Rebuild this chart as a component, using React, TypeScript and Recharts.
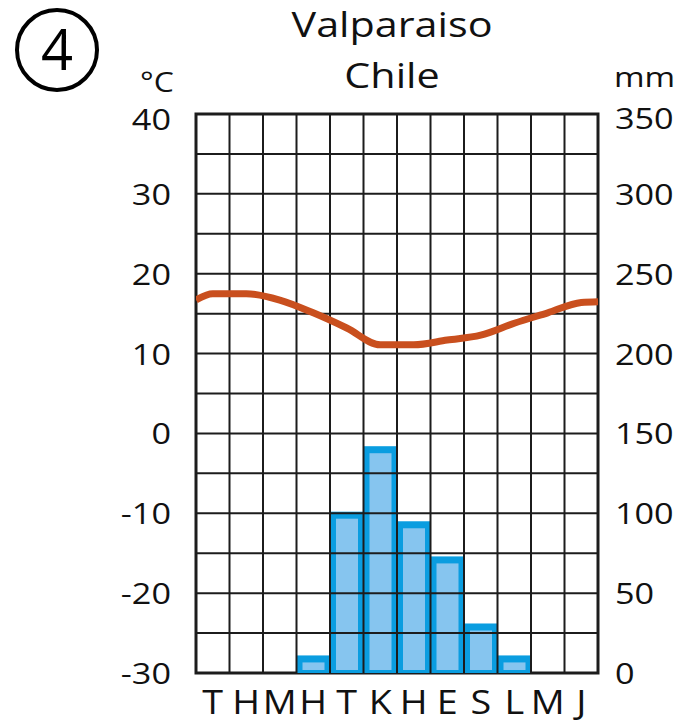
import {
  ComposedChart,
  Bar,
  Line,
  XAxis,
  YAxis,
  ReferenceLine,
  ReferenceArea,
} from "recharts";

const MONTHS = ["T", "H", "M", "H", "T", "K", "H", "E", "S", "L", "M", "J"];
const RAIN_MM = [0, 0, 0, 11, 101, 142, 95, 73, 31, 11, 0, 0];
const TEMP_C = [17.5, 17.5, 16.7, 15.1, 13.2, 11.1, 11.1, 11.7, 12.3, 13.8, 15.1, 16.4];
// where the curve meets the left and right frame
const TEMP_EDGE_START = 16.7;
const TEMP_EDGE_END = 16.5;

const TEMP_TICKS = [-30, -25, -20, -15, -10, -5, 0, 5, 10, 15, 20, 25, 30, 35, 40];
const RAIN_TICKS = [0, 50, 100, 150, 200, 250, 300, 350];
const MONTH_EDGES = [0, 1, 2, 3, 4, 5, 6, 7, 8, 9, 10, 11, 12];

const FONT = "'Open Sans', 'DejaVu Sans', sans-serif";
const INK = "#111";
const GRID = "#1c1c1c";
const BAR_EDGE = "#0a9de0";
const BAR_FILL = "#86c5ef";
const TEMP_LINE = "#c94f1e";
const STRETCH = 1.18; // the lettering in the original is drawn wide

const W = 687;
const H = 722;

const barData = MONTHS.map((m, i) => ({ key: i, m, rain: RAIN_MM[i] }));
const lineData = [
  { x: 0, t: TEMP_EDGE_START },
  ...TEMP_C.map((t, i) => ({ x: i + 0.5, t })),
  { x: 12, t: TEMP_EDGE_END },
];

function WideText({ x, y, anchor, size, children, dy = 0 }: any) {
  return (
    <text
      transform={`translate(${x},${y + dy}) scale(${STRETCH},1)`}
      textAnchor={anchor}
      fontSize={size}
      fontFamily={FONT}
      fill={INK}
    >
      {children}
    </text>
  );
}

function TempTick({ x, y, payload }: any) {
  const v = payload.value as number;
  if (v % 10 !== 0) return null;
  return (
    <WideText x={x} y={y} dy={v === 40 ? 16 : 11} anchor="end" size={29}>
      {v}
    </WideText>
  );
}

function RainTick({ x, y, payload }: any) {
  const v = payload.value as number;
  return (
    <WideText x={x} y={y} dy={v === 350 ? 15 : 11} anchor="start" size={29}>
      {v}
    </WideText>
  );
}

function MonthTick({ x, y, payload }: any) {
  return (
    <WideText x={x} y={y} anchor="middle" size={32}>
      {MONTHS[payload.value]}
    </WideText>
  );
}

function RainBar({ x, y, width, height }: any) {
  if (!height || height <= 0) return null;
  return (
    <g>
      <rect x={x} y={y} width={width} height={height + 4} fill={BAR_EDGE} />
      <rect x={x + 6} y={y + 7} width={Math.max(width - 12, 0)} height={Math.max(height - 10, 0)} fill={BAR_FILL} />
    </g>
  );
}

export default function App() {
  return (
    <div style={{ position: "absolute", left: 0, top: 0, width: W, height: H, background: "#fff", fontFamily: FONT }}>
      <ComposedChart
        width={W}
        height={H}
        data={barData}
        margin={{ top: 114, right: 29, bottom: 9, left: 100 }}
        barCategoryGap={0}
        barGap={0}
      >
        <XAxis
          xAxisId="m"
          dataKey="key"
          height={40}
          axisLine={false}
          tickLine={false}
          tickSize={0}
          tickMargin={41}
          interval={0}
          tick={<MonthTick />}
        />
        <XAxis xAxisId="t" type="number" dataKey="x" domain={[0, 12]} allowDataOverflow hide />
        <YAxis
          yAxisId="temp"
          orientation="left"
          domain={[-30, 40]}
          ticks={TEMP_TICKS}
          interval={0}
          allowDataOverflow
          width={96}
          axisLine={false}
          tickLine={false}
          tickSize={0}
          tickMargin={25}
          tick={<TempTick />}
        />
        <YAxis
          yAxisId="rain"
          orientation="right"
          domain={[0, 350]}
          ticks={RAIN_TICKS}
          interval={0}
          allowDataOverflow
          width={60}
          axisLine={false}
          tickLine={false}
          tickSize={0}
          tickMargin={17}
          tick={<RainTick />}
        />
        <Bar
          xAxisId="m"
          yAxisId="rain"
          dataKey="rain"
          shape={<RainBar />}
          isAnimationActive={false}
        />
        {MONTH_EDGES.slice(1, -1).map((x) => (
          <ReferenceLine key={"v" + x} xAxisId="t" yAxisId="temp" x={x} stroke={GRID} strokeWidth={2} />
        ))}
        {TEMP_TICKS.slice(1, -1).map((y) => (
          <ReferenceLine key={"h" + y} xAxisId="t" yAxisId="temp" y={y} stroke={GRID} strokeWidth={2} />
        ))}
        <Line
          xAxisId="t"
          yAxisId="temp"
          data={lineData}
          dataKey="t"
          type="monotone"
          stroke={TEMP_LINE}
          strokeWidth={7}
          dot={false}
          activeDot={false}
          isAnimationActive={false}
        />
        <ReferenceArea
          xAxisId="t"
          yAxisId="temp"
          x1={0}
          x2={12}
          y1={-30}
          y2={40}
          fill="none"
          fillOpacity={0}
          stroke={GRID}
          strokeWidth={3}
        />
      </ComposedChart>
      <svg width={W} height={H} style={{ position: "absolute", left: 0, top: 0, pointerEvents: "none" }}>
        <circle cx={57} cy={50} r={40} fill="none" stroke="#000" strokeWidth={4} />
        <text x={57} y={70} textAnchor="middle" fontSize={56} fontFamily={FONT} fill="#000">4</text>
        <WideText x={392} y={37} anchor="middle" size={35}>Valparaiso</WideText>
        <WideText x={392} y={88} anchor="middle" size={35}>Chile</WideText>
        <WideText x={140} y={92} anchor="start" size={27}>°C</WideText>
        <WideText x={614} y={87} anchor="start" size={28}>mm</WideText>
      </svg>
    </div>
  );
}
